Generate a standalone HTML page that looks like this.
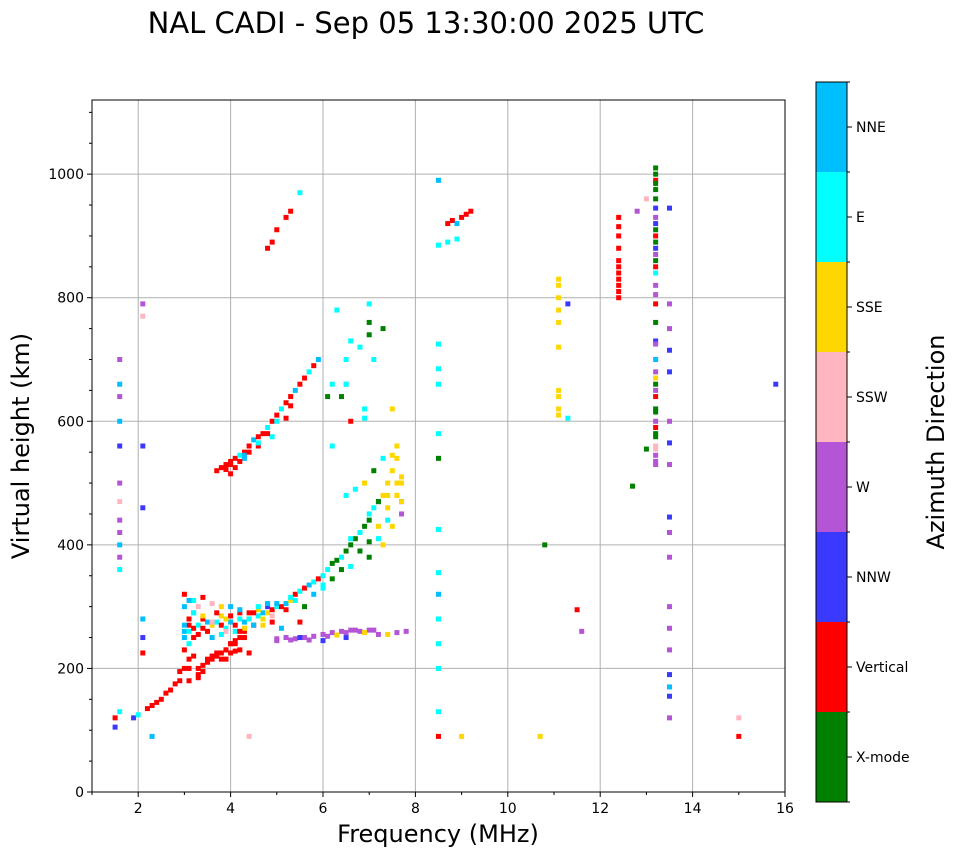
<!DOCTYPE html>
<html><head><meta charset="utf-8">
<style>
body{margin:0;background:#fff;font-family:"Liberation Sans","DejaVu Sans",sans-serif;}
svg text{font-family:"DejaVu Sans","Liberation Sans",sans-serif;}
</style></head>
<body>
<svg id="chart" width="958" height="857" xmlns="http://www.w3.org/2000/svg">
<text x="426" y="33" font-size="29" text-anchor="middle">NAL CADI - Sep 05 13:30:00 2025 UTC</text>
<g id="grid"></g>
<g id="marks"></g>
<rect x="92" y="100" width="693" height="692" fill="none" stroke="#000" stroke-width="1"/>
<g id="axes"></g>
<text x="438" y="842" font-size="24" text-anchor="middle">Frequency (MHz)</text>
<text transform="translate(29,446) rotate(-90)" font-size="24" text-anchor="middle">Virtual height (km)</text>
<g id="cbar"></g>
<text transform="translate(944,442) rotate(-90)" font-size="24" text-anchor="middle">Azimuth Direction</text>
</svg>
<script>
const dirNames=["X-mode","Vertical","NNW","W","SSW","SSE","E","NNE"];
const dirColors=["#008000","#ff0000","#3a3aff","#b455d6","#ffb6c1","#ffd700","#00ffff","#00bfff"];
const xTicks=[2,4,6,8,10,12,14,16];
const yTicks=[0,200,400,600,800,1000];
// echoes: frequency (MHz), virtual height (km), direction index
const freqs=[
1.5,1.5,1.6,1.6,1.6,1.6,1.6,1.6,1.6,1.6,1.6,1.6,1.6,1.6,1.6,
1.9,2.0,2.1,2.1,2.1,2.1,2.1,2.1,2.1,2.2,2.3,2.4,2.5,2.6,2.7,2.8,2.9,2.9,
3.0,3.0,3.0,3.1,3.1,3.1,3.1,3.1,3.0,3.2,3.2,3.3,3.3,3.4,3.5,3.6,3.7,3.8,3.9,4.0,4.1,4.2,4.3,3.7,3.9,4.1,
3.0,3.1,3.2,3.3,3.4,3.5,3.6,3.7,3.8,3.9,4.0,4.1,4.2,4.3,4.4,4.5,4.6,4.7,4.8,4.9,5.0,5.1,5.2,5.3,5.4,5.5,5.6,5.7,5.8,5.9,6.0,
3.2,3.4,3.6,3.8,4.0,4.2,4.4,4.6,4.8,5.0,5.2,5.4,5.6,5.8,6.0,3.5,3.9,4.3,4.7,5.1,5.5,4.5,4.9,5.3,
6.1,6.2,6.3,6.4,6.5,6.6,6.7,6.8,6.9,7.0,7.1,7.2,7.3,7.4,7.5,7.6,6.6,6.8,7.0,7.2,7.4,7.6,7.0,7.3,7.5,6.5,6.9,7.1,7.3,7.6,7.7,7.7,7.7,6.4,
5.0,5.2,5.4,5.6,5.8,6.0,6.2,6.4,6.6,6.8,7.0,7.2,7.4,7.6,7.8,6.0,6.5,
3.7,3.8,3.9,4.0,4.1,4.2,4.3,4.4,4.5,4.6,4.7,4.8,4.9,5.0,5.1,5.2,5.3,5.4,5.5,5.6,5.7,5.8,5.9,4.0,4.3,4.6,4.9,5.2,
4.8,4.9,5.0,5.2,5.3,5.5,6.1,6.2,6.5,7.0,
8.5,8.5,8.5,8.5,8.5,8.5,8.5,8.5,8.5,8.5,8.5,8.5,8.5,8.5,8.7,8.8,8.9,9.0,9.1,9.2,8.7,8.9,
11.1,11.1,11.1,11.1,11.1,11.1,11.1,11.1,11.1,11.1,11.3,11.3,
12.4,12.4,12.4,12.4,12.4,12.4,12.4,12.4,12.4,12.4,12.4,
13.2,13.2,13.2,13.2,13.2,13.2,13.2,13.2,13.2,13.2,13.2,13.2,13.2,13.2,13.2,13.2,13.2,13.2,13.2,13.2,13.2,13.2,13.2,13.2,13.2,13.2,13.2,13.2,13.2,13.2,
13.5,13.5,13.5,13.5,13.5,13.5,13.5,13.5,13.5,13.5,13.5,13.5,13.5,13.5,13.5,13.5,13.5,13.5,
12.8,13.0,13.0,15.0,15.0,15.8,10.7,9.0,8.5,2.3,4.4,11.5,11.6,10.8,12.7,
3.0,3.1,3.2,3.3,3.4,3.5,3.6,3.7,3.8,3.9,
4.0,4.1,4.2,4.3,4.4,4.5,4.6,4.7,4.8,4.9,
3.2,3.3,3.4,3.6,3.8,4.0,4.2,4.4,3.1,3.0,
3.5,3.6,3.7,3.8,3.9,4.0,4.1,4.2,3.3,3.4,
6.0,6.2,6.4,6.6,6.8,7.0,7.2,7.4,7.6,7.7,
6.5,6.7,6.9,7.1,7.3,7.5,7.6,7.7,7.4,7.2,
5.0,5.3,5.5,5.7,6.1,6.3,6.5,6.7,6.9,7.1,
3.9,4.0,4.1,4.2,4.3,4.4,4.6,4.8,5.0,5.3,
13.2,13.2,13.2,13.2,13.2,13.2,13.2,13.2,13.2,13.2,
6.3,6.6,6.8,7.0,7.0,6.5,6.9,7.5,6.2,6.6];
const heights=[
105,120,130,360,380,400,420,440,470,500,560,600,640,660,700,
120,125,225,250,280,460,560,770,790,135,140,145,150,160,165,175,180,195,
200,230,260,180,200,215,240,270,300,220,250,200,190,205,210,215,220,225,230,240,245,250,250,220,215,228,
250,260,265,270,265,275,270,275,270,265,275,270,280,275,280,270,285,290,290,295,300,300,305,310,320,325,330,335,340,345,350,
290,280,275,285,300,290,280,295,300,305,295,310,300,320,330,260,260,260,270,265,275,290,285,315,
360,370,375,380,390,400,410,420,430,440,460,470,480,500,520,540,410,420,450,470,480,500,380,400,430,660,620,700,750,480,510,470,450,640,
245,250,248,250,252,255,258,260,262,260,262,255,255,258,260,245,250,
520,525,530,535,540,545,550,560,570,575,580,590,600,610,620,630,640,650,660,670,680,690,700,515,540,560,575,605,
880,890,910,930,940,970,640,660,660,760,
990,885,725,685,660,580,540,425,355,320,280,240,200,130,920,925,920,930,935,940,890,895,
610,620,640,650,720,760,780,800,820,830,790,605,
800,810,820,830,840,850,860,880,900,915,930,
530,545,560,580,600,620,640,660,680,700,730,760,790,820,840,860,870,880,890,900,910,920,930,945,960,975,990,1000,1010,670,
120,155,170,190,230,265,300,380,420,445,530,565,600,680,715,750,790,945,
940,960,555,90,120,660,90,90,90,90,90,295,260,400,495,
270,280,290,255,285,260,250,290,255,280,
285,260,295,265,290,270,300,280,305,275,
310,300,315,305,300,240,260,225,310,320,
215,220,225,215,230,225,240,230,185,195,
335,345,360,365,390,405,430,460,480,500,
480,490,500,520,540,545,560,470,440,410,
248,246,250,246,252,254,258,262,258,262,
522,530,525,535,545,550,565,580,600,625,
535,555,575,590,615,650,725,805,850,985,
780,730,720,790,740,700,605,620,560,600];
const dirs=[
2,1,6,6,3,7,3,3,4,3,2,7,3,7,3,
2,6,1,2,7,2,2,4,3,1,1,1,1,1,1,1,1,1,
1,1,7,1,1,1,6,1,7,1,1,1,1,1,1,1,1,1,1,1,1,1,1,1,1,1,
7,6,1,6,1,7,5,6,1,6,7,1,6,7,5,1,6,7,5,1,6,1,7,5,1,6,1,7,6,1,6,
7,1,4,5,7,1,6,5,2,7,1,6,0,7,6,4,4,1,5,7,1,1,4,6,
6,0,0,6,0,0,0,6,0,0,6,0,5,5,5,5,6,6,6,0,5,5,0,5,5,6,6,6,0,5,5,2,3,0,
3,3,3,3,3,3,3,3,3,3,3,3,5,3,3,2,2,
1,1,1,1,1,6,1,1,7,1,1,6,1,1,6,1,1,7,1,1,6,1,7,1,7,1,6,1,
1,1,1,1,1,6,0,6,6,0,
7,6,6,6,6,6,0,6,6,7,6,6,6,6,1,1,7,1,1,1,6,6,
5,5,5,5,5,5,5,5,5,5,2,6,
1,1,1,1,1,1,1,1,1,1,1,
3,3,4,0,3,0,1,0,3,7,2,0,1,3,6,0,3,2,0,1,0,2,3,2,0,0,1,0,0,5,
3,2,7,2,3,3,3,3,3,2,3,2,3,2,2,3,3,2,
3,4,0,1,4,2,5,5,1,7,4,1,3,0,0,
7,1,6,1,5,1,7,1,6,5,
1,6,7,5,1,7,6,5,7,1,
6,4,1,4,5,1,1,1,7,1,
1,1,1,1,1,1,1,1,1,1,
6,0,0,6,0,0,5,5,5,5,
6,6,5,0,6,5,5,5,6,6,
3,3,2,3,3,5,3,3,5,3,
1,1,1,1,7,1,6,1,6,1,
3,4,0,1,0,3,3,3,1,0,
6,6,6,6,0,6,6,5,6,1];

const NS="http://www.w3.org/2000/svg";
const X0=92,X1=785,Y0=792,Y1=100;
const xs=f=>X0+(f-1)/15*(X1-X0);
const ys=h=>Y0-h/1120*(Y0-Y1);
function mk(tag,attrs,parent){const e=document.createElementNS(NS,tag);for(const k in attrs)e.setAttribute(k,attrs[k]);parent.appendChild(e);return e;}
const grid=document.getElementById('grid'),axes=document.getElementById('axes'),marks=document.getElementById('marks'),cbar=document.getElementById('cbar');
xTicks.forEach(t=>{const x=xs(t);
 const g=mk('line',{x1:x,x2:x,y1:Y1,y2:Y0,stroke:'#b0b0b0','stroke-width':1},grid);
 
 mk('line',{x1:x,x2:x,y1:Y0,y2:Y0+5,stroke:'#000'},axes);
 const l=mk('text',{x:x,y:Y0+21,'font-size':14,'text-anchor':'middle'},axes);l.textContent=t;
 });
for(let t=1;t<=15;t+=2){const x=xs(t);mk('line',{x1:x,x2:x,y1:Y0,y2:Y0+3,stroke:'#000'},axes);}
yTicks.forEach(t=>{const y=ys(t);
 if(t>0){const g=mk('line',{x1:X0,x2:X1,y1:y,y2:y,stroke:'#b0b0b0','stroke-width':1},grid);
 }
 mk('line',{x1:X0-5,x2:X0,y1:y,y2:y,stroke:'#000'},axes);
 const l=mk('text',{x:X0-8,y:y+5,'font-size':14,'text-anchor':'end'},axes);l.textContent=t;
 });
for(let t=50;t<1120;t+=50){if(t%200){const y=ys(t);mk('line',{x1:X0-3,x2:X0,y1:y,y2:y,stroke:'#000'},axes);}}
for(let i=0;i<freqs.length;i++){
 const x=xs(freqs[i]),y=ys(heights[i]);
 const r=mk('rect',{x:x-2.5,y:y-2.5,width:5,height:5,fill:dirColors[dirs[i]]},marks);
 
 
}
const CB0=82,CBH=90;
for(let i=0;i<8;i++){const k=7-i;const y=CB0+i*CBH;
 const r=mk('rect',{x:816,y:y,width:31,height:CBH,fill:dirColors[k]},cbar);
 
 mk('line',{x1:847,x2:852,y1:y+CBH/2,y2:y+CBH/2,stroke:'#000'},cbar);
 const l=mk('text',{x:856,y:y+CBH/2+5,'font-size':14},cbar);l.textContent=dirNames[k];
 }
for(let i=0;i<=8;i++){mk('line',{x1:847,x2:850,y1:CB0+i*CBH,y2:CB0+i*CBH,stroke:'#000'},cbar);}
mk('rect',{x:816,y:CB0,width:31,height:720,fill:'none',stroke:'#000'},cbar);
</script>
</body></html>
